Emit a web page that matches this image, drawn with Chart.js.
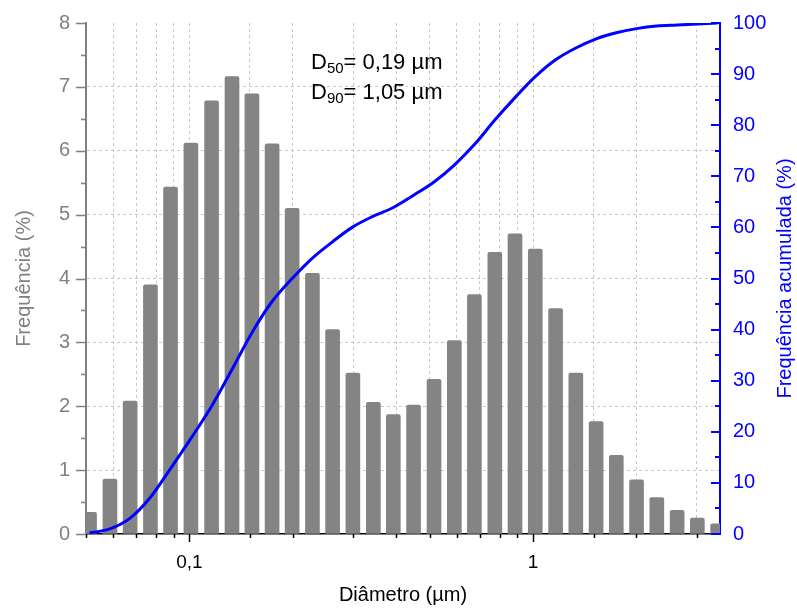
<!DOCTYPE html>
<html>
<head>
<meta charset="utf-8">
<script src="https://cdn.jsdelivr.net/npm/chart.js@4/dist/chart.umd.min.js"></script>
<style>
  html, body { margin: 0; padding: 0; background: #fff; }
  #wrap { width: 797px; height: 609px; }
</style>
</head>
<body>
<div id="wrap"><canvas id="psd" width="797" height="609"></canvas></div>
<script>
// diametro (um) de cada classe, lido pela posicao das barras
const diameters = [0.0512, 0.0587, 0.0672, 0.0770, 0.0881, 0.101, 0.116, 0.133, 0.152, 0.174,
                   0.199, 0.228, 0.261, 0.299, 0.343, 0.392, 0.449, 0.515, 0.590, 0.675,
                   0.774, 0.886, 1.015, 1.163, 1.332, 1.526, 1.747, 2.001, 2.292, 2.626,
                   3.007, 3.445];
// frequencia (%) - barras
const frequency = [0.34, 0.86, 2.08, 3.90, 5.43, 6.12, 6.78, 7.16, 6.89, 6.11,
                   5.10, 4.08, 3.20, 2.52, 2.06, 1.87, 2.02, 2.42, 3.03, 3.75,
                   4.41, 4.70, 4.46, 3.53, 2.52, 1.76, 1.23, 0.85, 0.57, 0.37,
                   0.25, 0.16];
// frequencia acumulada (%) - curva azul
const cumulative = [0.2, 1.0, 3.1, 7.2, 12.8, 18.7, 25.0, 32.2, 39.4, 45.5,
                    50.0, 54.0, 57.2, 60.1, 62.2, 63.9, 66.3, 68.9, 72.2, 76.2,
                    81.0, 85.4, 89.5, 92.8, 95.1, 96.9, 98.1, 98.9, 99.4, 99.6,
                    99.8, 100];
const xLabels = { 0.1: '0,1', 1: '1' };
const notes = [['50', '= 0,19 µm'], ['90', '= 1,05 µm']];
const rightTitle = 'Frequência acumulada (%)';

const FONT = "'Liberation Sans', Arial, sans-serif";
const GRAY = '#808080';
const BLUE = '#0000ff';
const GRID = '#c8c8c8';

// marcas dos eixos (maiores e menores)
const tickMarks = {
    id: 'tickMarks',
    afterDraw(chart) {
        const { ctx, chartArea, scales } = chart;
        const line = (x1, y1, x2, y2) => { ctx.beginPath(); ctx.moveTo(x1, y1); ctx.lineTo(x2, y2); ctx.stroke(); };
        ctx.save();
        ctx.lineWidth = 1.5;

        ctx.strokeStyle = '#000';
        scales.x.ticks.forEach(t => {
            if (t.value >= scales.x.max) return;
            const lg = Math.log10(t.value);
            const major = Math.abs(lg - Math.round(lg)) < 1e-6;
            const px = Math.round(scales.x.getPixelForValue(t.value)) + 0.5;
            line(px, chartArea.bottom, px, chartArea.bottom + (major ? 8 : 4));
        });

        ctx.strokeStyle = GRAY;
        for (let v = 0; v <= 8; v += 0.5) {
            const py = Math.round(scales.y.getPixelForValue(v)) + 0.5;
            line(chartArea.left, py, chartArea.left - (v % 1 === 0 ? 10 : 5), py);
        }

        ctx.strokeStyle = BLUE;
        ctx.lineWidth = 2;
        for (let v = 0; v <= 100; v += 5) {
            const py = Math.round(scales.y1.getPixelForValue(v));
            line(chartArea.right, py, chartArea.right - (v % 10 === 0 ? 9 : 5), py);
        }

        // titulo do eixo direito, lido de baixo para cima
        ctx.save();
        ctx.translate(chart.width - 12, (chartArea.top + chartArea.bottom) / 2);
        ctx.rotate(-Math.PI / 2);
        ctx.fillStyle = BLUE;
        ctx.font = '20px ' + FONT;
        ctx.textAlign = 'center';
        ctx.textBaseline = 'middle';
        ctx.fillText(rightTitle, 0, 0);
        ctx.restore();

        ctx.restore();
    }
};

// texto D50 / D90
const dNotes = {
    id: 'dNotes',
    afterDraw(chart) {
        const { ctx, chartArea } = chart;
        ctx.save();
        ctx.fillStyle = '#000';
        ctx.textBaseline = 'alphabetic';
        notes.forEach((n, i) => {
            let x = chartArea.left + 225;
            const y = chartArea.top + 46 + i * 30;
            ctx.font = '22px ' + FONT;
            ctx.fillText('D', x, y);
            x += ctx.measureText('D').width;
            ctx.font = '15px ' + FONT;
            ctx.fillText(n[0], x, y + 4);
            x += ctx.measureText(n[0]).width;
            ctx.font = '22px ' + FONT;
            ctx.fillText(n[1], x, y);
        });
        ctx.restore();
    }
};

// largura fixa dos eixos verticais, sem folga extra em cima/embaixo
const fixVertical = w => s => { s.width = w; s.paddingTop = 0; s.paddingBottom = 0; };

const ctx = document.getElementById('psd').getContext('2d');
new Chart(ctx, {
    type: 'bar',
    data: {
        datasets: [{
            type: 'line',
            label: 'Frequência acumulada',
            data: diameters.map((d, i) => ({ x: d, y: cumulative[i] })),
            yAxisID: 'y1',
            borderColor: BLUE,
            borderWidth: 3,
            pointRadius: 0,
            cubicInterpolationMode: 'monotone',
            fill: false,
            order: 0
        }, {
            type: 'bar',
            label: 'Frequência',
            data: diameters.map((d, i) => ({ x: d, y: frequency[i] })),
            yAxisID: 'y',
            backgroundColor: '#848484',
            barThickness: 14,
            borderRadius: { topLeft: 2, topRight: 2 },
            borderSkipped: 'bottom',
            order: 1
        }]
    },
    options: {
        responsive: false,
        animation: false,
        devicePixelRatio: 1,
        layout: { padding: { top: 23, left: 0, right: 0, bottom: 0 } },
        plugins: { legend: { display: false }, tooltip: { enabled: false } },
        scales: {
            x: {
                type: 'logarithmic',
                position: 'bottom',
                min: 0.05,
                max: 3.5,
                offset: false,
                afterFit: s => { s.height = 75; },
                grid: {
                    offset: false,
                    drawTicks: false,
                    lineWidth: 1,
                    color: c => (c.tick && (c.tick.value <= 0.05 || c.tick.value >= 3.5)) ? 'rgba(0,0,0,0)' : GRID
                },
                border: { display: true, color: '#000', width: 1.5, dash: [3, 3] },
                ticks: {
                    autoSkip: false,
                    maxRotation: 0,
                    padding: 17,
                    color: '#000',
                    font: { size: 19, family: FONT },
                    callback: v => {
                        for (const k in xLabels) if (Math.abs(v - Number(k)) < 1e-9) return xLabels[k];
                        return '';
                    }
                },
                title: {
                    display: true,
                    text: 'Diâmetro (µm)',
                    color: '#000',
                    font: { size: 20, family: FONT },
                    padding: { top: 0, bottom: 2 }
                }
            },
            y: {
                position: 'left',
                min: 0,
                max: 8,
                afterFit: fixVertical(86),
                grid: {
                    drawTicks: false,
                    color: c => (c.tick && (c.tick.value === 0 || c.tick.value === 8)) ? 'rgba(0,0,0,0)' : GRID
                },
                border: { display: true, color: GRAY, width: 2, dash: [3, 3] },
                ticks: {
                    stepSize: 1,
                    padding: 16,
                    color: GRAY,
                    font: { size: 20, family: FONT }
                },
                title: {
                    display: true,
                    text: 'Frequência (%)',
                    color: GRAY,
                    font: { size: 20, family: FONT },
                    padding: { top: 12, bottom: 0 }
                }
            },
            y1: {
                position: 'right',
                min: 0,
                max: 100,
                afterFit: fixVertical(77),
                grid: { drawOnChartArea: false, drawTicks: false },
                border: { display: true, color: BLUE, width: 2 },
                ticks: {
                    stepSize: 10,
                    padding: 13,
                    color: BLUE,
                    font: { size: 20, family: FONT }
                },
                title: { display: false }
            }
        }
    },
    plugins: [tickMarks, dNotes]
});
</script>
</body>
</html>
